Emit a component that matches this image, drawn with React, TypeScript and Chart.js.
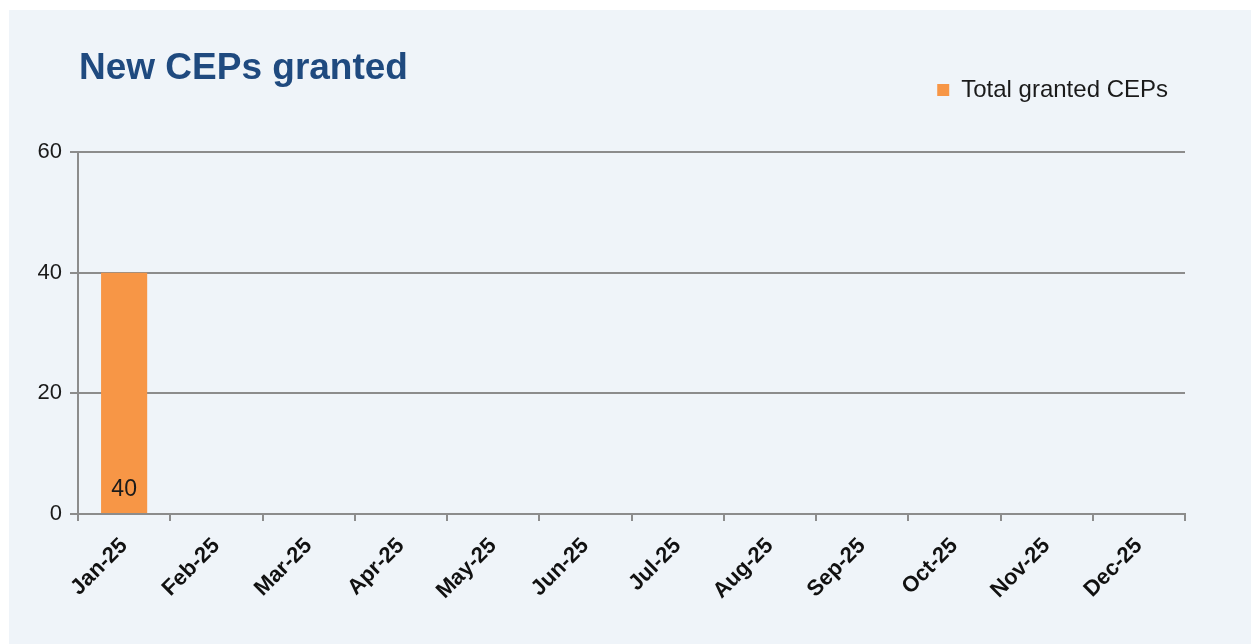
import React, { useEffect, useRef } from "react";
import { Chart, registerables } from "chart.js";

Chart.register(...registerables);

const titleText = "New CEPs granted";
const seriesLabel = "Total granted CEPs";
const categories = [
  "Jan-25", "Feb-25", "Mar-25", "Apr-25", "May-25", "Jun-25",
  "Jul-25", "Aug-25", "Sep-25", "Oct-25", "Nov-25", "Dec-25",
];
const grantedValues: (number | null)[] = [40, null, null, null, null, null, null, null, null, null, null, null];
const yTicks = [0, 20, 40, 60];

const FONT = "'Liberation Sans', Arial, Helvetica, sans-serif";
const GRID = "#8c8c8c";
const W = 1242;
const H = 634;

const titlePlugin = {
  id: "panelTitle",
  afterDraw(chart: any) {
    const ctx = chart.ctx;
    ctx.save();
    ctx.font = `bold 37px ${FONT}`;
    ctx.fillStyle = "#1f4a7f";
    ctx.textAlign = "left";
    ctx.textBaseline = "alphabetic";
    ctx.fillText(titleText, 70, 69);
    ctx.restore();
  },
};

const legendSpacePlugin = {
  id: "legendSpace",
  beforeInit(chart: any) {
    const legend = chart.legend;
    if (!legend) return;
    const orig = legend.fit;
    legend.fit = function () {
      orig.call(this);
      this.height = 91;
    };
  },
};

const barLabelPlugin = {
  id: "barLabels",
  afterDatasetsDraw(chart: any) {
    const ctx = chart.ctx;
    chart.data.datasets.forEach((ds: any, di: number) => {
      const meta = chart.getDatasetMeta(di);
      meta.data.forEach((bar: any, i: number) => {
        const v = ds.data[i];
        if (v === null || v === undefined) return;
        ctx.save();
        ctx.font = `23px ${FONT}`;
        ctx.fillStyle = "#1a1a1a";
        ctx.textAlign = "center";
        ctx.textBaseline = "alphabetic";
        ctx.fillText(String(v), bar.x, bar.base - 17);
        ctx.restore();
      });
    });
  },
};

export default function App() {
  const ref = useRef<HTMLCanvasElement | null>(null);

  useEffect(() => {
    if (!ref.current) return;
    const chart = new Chart(ref.current, {
      type: "bar",
      data: {
        labels: categories,
        datasets: [
          {
            label: seriesLabel,
            data: grantedValues,
            backgroundColor: "#f79646",
            borderWidth: 0,
            barPercentage: 0.5,
            categoryPercentage: 1,
          },
        ],
      },
      options: {
        responsive: false,
        devicePixelRatio: 1,
        animation: false,
        layout: { padding: { top: 51, right: 66, left: 0, bottom: 0 } },
        plugins: {
          title: { display: false },
          tooltip: { enabled: false },
          legend: {
            display: true,
            position: "top",
            align: "end",
            labels: {
              boxWidth: 12,
              boxHeight: 12,
              padding: 17,
              color: "#1a1a1a",
              font: { family: FONT, size: 24 },
            },
          },
        },
        scales: {
          x: {
            offset: true,
            afterFit(scale: any) {
              scale.height = H - 504;
            },
            grid: {
              display: true,
              offset: true,
              drawOnChartArea: false,
              drawTicks: true,
              tickLength: 7,
              color: GRID,
              lineWidth: 2,
            },
            border: { display: true, color: GRID, width: 2 },
            ticks: {
              minRotation: 45,
              maxRotation: 45,
              autoSkip: false,
              padding: 12,
              color: "#111111",
              font: { family: FONT, size: 22, weight: "bold" },
            },
          },
          y: {
            min: 0,
            max: 60,
            afterFit(scale: any) {
              scale.width = 69;
            },
            afterBuildTicks(scale: any) {
              scale.ticks = yTicks.map((v) => ({ value: v }));
            },
            grid: {
              color: GRID,
              lineWidth: 2,
              drawTicks: true,
              tickLength: 8,
            },
            border: { display: true, color: GRID, width: 2 },
            ticks: {
              padding: 8,
              color: "#1a1a1a",
              font: { family: FONT, size: 22 },
            },
          },
        },
      },
      plugins: [titlePlugin, legendSpacePlugin, barLabelPlugin],
    } as any);
    return () => chart.destroy();
  }, []);

  return (
    <div
      style={{
        position: "absolute",
        left: 9,
        top: 10,
        width: W,
        height: H,
        background: "#eff4f9",
      }}
    >
      <canvas ref={ref} width={W} height={H} style={{ display: "block", width: W, height: H }} />
    </div>
  );
}
